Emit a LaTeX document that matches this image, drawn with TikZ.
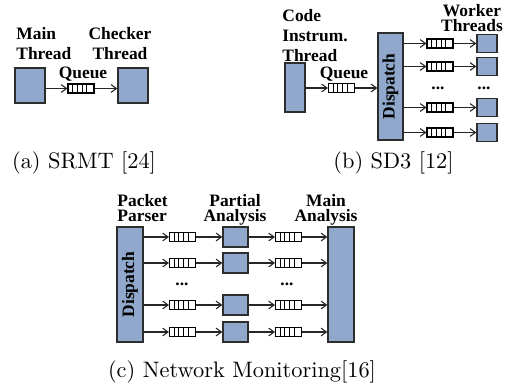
\documentclass[tikz,border=0pt]{standalone}
\usepackage{fontspec}
\newfontfamily\lblfont{Liberation Serif}
\usetikzlibrary{arrows.meta,calc}
\definecolor{boxfill}{RGB}{144,168,204}
\definecolor{edgecol}{RGB}{45,45,45}
\newcommand\upx{0.465pt}

\begin{document}
\begin{tikzpicture}[x=0.465pt,y=-0.465pt,
  blk/.style={draw=edgecol, fill=boxfill, line width=0.6pt, inner sep=0},
  fifo/.style={draw=black, fill=white, line width=0.5pt, inner sep=0,
    minimum width=26*\upx, minimum height=9*\upx,
    path picture={
      \foreach \f in {0.18,0.36,0.54,0.72}
        \draw[line width=0.45pt]
          ($(path picture bounding box.south west)!\f!(path picture bounding box.south east)$) --
          ($(path picture bounding box.north west)!\f!(path picture bounding box.north east)$);
    }},
  arr/.style={draw=black!85, line width=0.5pt,
    -{Straight Barb[length=2.5pt,width=3.6pt,line width=0.5pt]}},
  lbl/.style={font=\lblfont\bfseries\fontsize{8.1pt}{9.4pt}\selectfont, inner sep=0},
  lbltight/.style={font=\lblfont\bfseries\fontsize{8.1pt}{6.8pt}\selectfont, inner sep=0},
  vlbl/.style={font=\lblfont\bfseries\fontsize{8.1pt}{9pt}\selectfont, inner sep=0, rotate=90},
  captxt/.style={font=\fontsize{10.4pt}{12pt}\selectfont, inner sep=0},
]
\useasboundingbox (0,0) rectangle (513,387);

% ---------------- (a) SRMT ----------------
\node[lbl, align=left, anchor=north west] (lmain) at (16,27) {Main\\Thread};
\node[lbl, align=center, anchor=north] (lcheck) at (120,27) {Checker\\Thread};
\node[blk, minimum width=30*\upx, minimum height=35*\upx] (mainT) at (30,85.5) {};
\node[blk, minimum width=30*\upx, minimum height=35*\upx] (checkT) at (133,85.5) {};
\node[fifo] (qa) at (81,88.5) {};
\node[lbl, anchor=base] (lqa) at (83,78) {Queue};
\draw[arr] (mainT.east |- qa.west) -- (qa.west);
\draw[arr] (qa.east) -- (checkT.west |- qa.east);
\node[captxt, anchor=base] (capa) at (84,168) {(a) SRMT [24]};

% ---------------- (b) SD3 ----------------
\node[lbl, align=left, anchor=north west] (lcode) at (282,9) {Code\\Instrum.\\Thread};
\node[lbltight, align=center, anchor=north] (lwork) at (472,4) {Worker\\Threads};
\node[blk, minimum width=20*\upx, minimum height=49*\upx] (codeT) at (295,87.5) {};
\node[fifo] (qb) at (341.5,88) {};
\node[lbl, anchor=base] (lqb) at (344,78) {Queue};
\node[blk, minimum width=25*\upx, minimum height=107*\upx] (dispb) at (390.5,86.5) {};
\node[vlbl] (ldispb) at (dispb.center) {Dispatch};
\draw[arr] (codeT.east |- qb.west) -- (qb.west);
\draw[arr] (qb.east) -- (dispb.west |- qb.east);
\foreach \i/\y in {1/43.5,2/66.5,3/107.5,4/132.5}{
  \node[fifo] (qb\i) at (440,\y) {};
  \node[blk, minimum width=20*\upx, minimum height=18*\upx] (wk\i) at (487,\y) {};
  \draw[arr] (dispb.east |- qb\i.west) -- (qb\i.west);
  \draw[arr] (qb\i.east) -- (wk\i.west |- qb\i.east);
}
\node[lbl, anchor=base] (dotsb1) at (438,89) {...};
\node[lbl, anchor=base] (dotsb2) at (484,89) {...};
\node[captxt, anchor=base] (capb) at (393.5,168) {(b) SD3 [12]};

% ---------------- (c) Network Monitoring ----------------
\node[lbltight, align=left, anchor=north west] (lpack) at (117,194) {Packet\\Parser};
\node[lbltight, align=center, anchor=north] (lpart) at (235,194) {Partial\\Analysis};
\node[lbltight, align=center, anchor=north] (lmainan) at (326,194) {Main\\Analysis};
\node[blk, minimum width=26*\upx, minimum height=115*\upx] (dispc) at (130,284.5) {};
\node[vlbl] (ldispc) at (dispc.center) {Dispatch};
\node[blk, minimum width=26*\upx, minimum height=115*\upx] (mainan) at (341,284.5) {};
\foreach \i/\y in {1/237,2/263,3/305,4/332}{
  \node[fifo] (qc\i) at (182.5,\y) {};
  \node[blk, minimum width=25*\upx, minimum height=20*\upx] (pa\i) at (235.5,\y) {};
  \node[fifo] (qd\i) at (288.5,\y) {};
  \draw[arr] (dispc.east |- qc\i.west) -- (qc\i.west);
  \draw[arr] (qc\i.east) -- (pa\i.west |- qc\i.east);
  \draw[arr] (pa\i.east |- qd\i.west) -- (qd\i.west);
  \draw[arr] (qd\i.east) -- (mainan.west |- qd\i.east);
}
\node[lbl, anchor=base] (dotsc1) at (182,285) {...};
\node[lbl, anchor=base] (dotsc2) at (287,285) {...};
\node[captxt, anchor=base] (capc) at (242,377) {(c) Network Monitoring[16]};
\end{tikzpicture}
\end{document}
